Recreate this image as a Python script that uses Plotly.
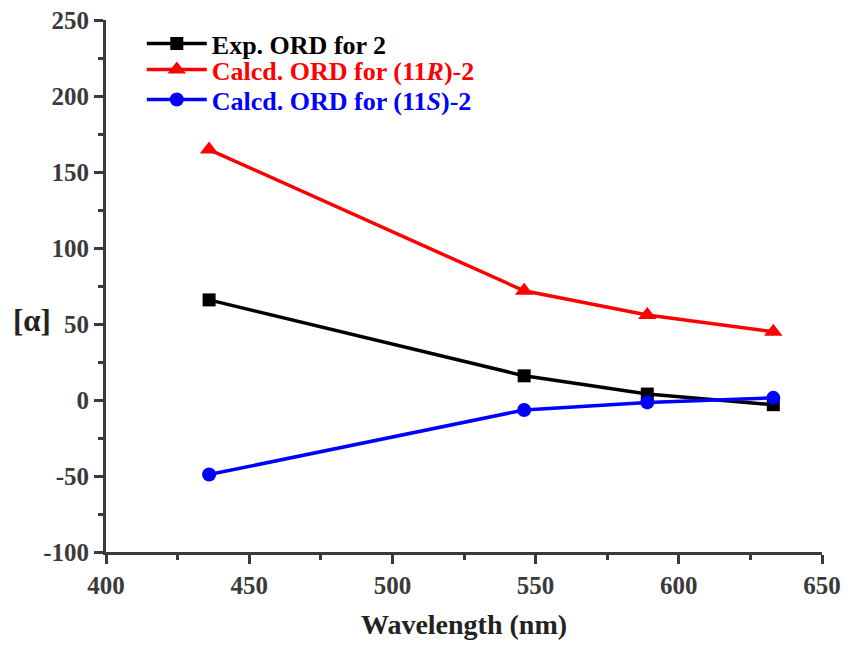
import plotly.graph_objects as go

# ORD data
wavelength = [436, 546, 589, 633]
exp_ord = [66, 16, 4, -3]
calcd_11r = [165, 72, 56, 45]
calcd_11s = [-49, -6.5, -1.5, 1.5]

x_ticks = [400, 450, 500, 550, 600, 650]
y_ticks = [-100, -50, 0, 50, 100, 150, 200, 250]
y_tick_text = ["-100", "-50", "0", "50", "100", "150", "200", "250"]

FONT = "Liberation Serif"
AXIS_COLOR = "#3a3a3a"

fig = go.Figure()

# one legend per series so each row can sit where the original has it
series = [
    ("Exp. ORD for 2", exp_ord, "#000000", "square", 13, "legend", 1.0),
    ("Calcd. ORD for (11<i>R</i>)-2", calcd_11r, "#ff0000", "triangle-up", 16, "legend2", 0.951),
    ("Calcd. ORD for (11<i>S</i>)-2", calcd_11s, "#0000ff", "circle", 14, "legend3", 0.8945),
]
for name, vals, color, symbol, msize, leg, _ in series:
    fig.add_trace(go.Scatter(
        x=wavelength,
        y=vals,
        mode="lines+markers",
        name=f"<span style='color:{color}'><b>{name}</b></span>",
        line=dict(color=color, width=3.5),
        marker=dict(color=color, symbol=symbol, size=msize),
        legend=leg,
    ))

axis_common = dict(
    showgrid=False,
    zeroline=False,
    showline=True,
    linecolor=AXIS_COLOR,
    linewidth=3,
    ticks="outside",
    ticklen=9,
    tickwidth=3,
    tickcolor=AXIS_COLOR,
    tickfont=dict(family=FONT, size=25, color=AXIS_COLOR, weight="bold"),
    ticklabeloverflow="allow",
    automargin=False,
)

fig.update_xaxes(
    range=[400, 650],
    tickvals=x_ticks,
    minor=dict(ticks="outside", ticklen=5, tickwidth=3, tickcolor=AXIS_COLOR, dtick=25, tick0=400),
    title=dict(text="<b>Wavelength (nm)</b>", font=dict(family=FONT, size=28, color="#222"), standoff=17),
    **axis_common,
)
fig.update_yaxes(
    range=[-100, 250.3],
    tickvals=y_ticks,
    ticktext=y_tick_text,
    minor=dict(ticks="outside", ticklen=5, tickwidth=3, tickcolor=AXIS_COLOR, dtick=25, tick0=-100),
    **axis_common,
)

fig.add_annotation(
    text="<b>[α]</b>", xref="paper", yref="paper", x=-0.074, y=0.436,
    xanchor="right", showarrow=False, font=dict(family=FONT, size=31, color="#222"),
)

legend_style = dict(
    x=0.05, xanchor="left", yanchor="top",
    bgcolor="rgba(0,0,0,0)",
    font=dict(family=FONT, size=26),
    itemwidth=60,
)
layout_legends = {}
for _, _, _, _, _, leg, ypos in series:
    layout_legends[leg] = dict(y=ypos, **legend_style)

fig.update_layout(
    width=851,
    height=650,
    margin=dict(l=98, r=37, t=12, b=106),
    plot_bgcolor="white",
    paper_bgcolor="white",
    showlegend=True,
    **layout_legends,
)

fig.write_html("out.html")
